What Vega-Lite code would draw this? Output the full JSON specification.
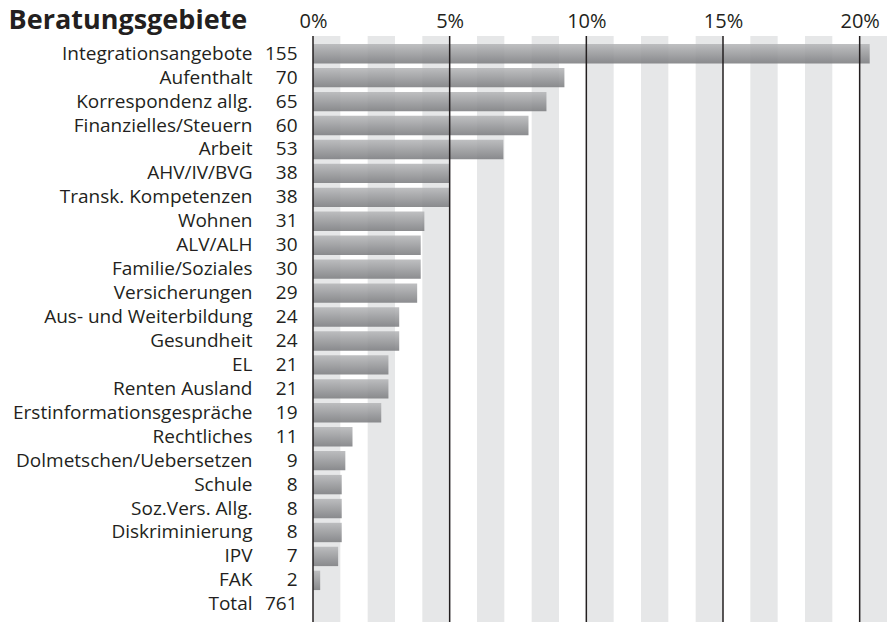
{
  "$schema": "https://vega.github.io/schema/vega-lite/v6.json",
  "width": 574,
  "height": 586,
  "autosize": "none",
  "padding": {"left": 313, "top": 36, "right": 0, "bottom": 0},
  "background": "white",
  "title": {
    "text": "Beratungsgebiete",
    "anchor": "start",
    "frame": "bounds",
    "orient": "top",
    "offset": -24,
    "dx": -4,
    "font": "Open Sans",
    "fontSize": 27,
    "fontWeight": "bold",
    "color": "#231f20"
  },
  "config": {
    "view": {"stroke": null},
    "font": "Open Sans"
  },
  "datasets": {
    "rows": [
      {"k": "Integrationsangebote|155", "name": "Integrationsangebote", "count": 155, "pct": 0.20368},
      {"k": "Aufenthalt|70", "name": "Aufenthalt", "count": 70, "pct": 0.09198},
      {"k": "Korrespondenz allg.|65", "name": "Korrespondenz allg.", "count": 65, "pct": 0.08541},
      {"k": "Finanzielles/Steuern|60", "name": "Finanzielles/Steuern", "count": 60, "pct": 0.07884},
      {"k": "Arbeit|53", "name": "Arbeit", "count": 53, "pct": 0.06965},
      {"k": "AHV/IV/BVG|38", "name": "AHV/IV/BVG", "count": 38, "pct": 0.04993},
      {"k": "Transk. Kompetenzen|38", "name": "Transk. Kompetenzen", "count": 38, "pct": 0.04993},
      {"k": "Wohnen|31", "name": "Wohnen", "count": 31, "pct": 0.04074},
      {"k": "ALV/ALH|30", "name": "ALV/ALH", "count": 30, "pct": 0.03942},
      {"k": "Familie/Soziales|30", "name": "Familie/Soziales", "count": 30, "pct": 0.03942},
      {"k": "Versicherungen|29", "name": "Versicherungen", "count": 29, "pct": 0.03811},
      {"k": "Aus- und Weiterbildung|24", "name": "Aus- und Weiterbildung", "count": 24, "pct": 0.03154},
      {"k": "Gesundheit|24", "name": "Gesundheit", "count": 24, "pct": 0.03154},
      {"k": "EL|21", "name": "EL", "count": 21, "pct": 0.02760},
      {"k": "Renten Ausland|21", "name": "Renten Ausland", "count": 21, "pct": 0.02760},
      {"k": "Erstinformationsgespräche|19", "name": "Erstinformationsgespräche", "count": 19, "pct": 0.02497},
      {"k": "Rechtliches|11", "name": "Rechtliches", "count": 11, "pct": 0.01445},
      {"k": "Dolmetschen/Uebersetzen|9", "name": "Dolmetschen/Uebersetzen", "count": 9, "pct": 0.01183},
      {"k": "Schule|8", "name": "Schule", "count": 8, "pct": 0.01051},
      {"k": "Soz.Vers. Allg.|8", "name": "Soz.Vers. Allg.", "count": 8, "pct": 0.01051},
      {"k": "Diskriminierung|8", "name": "Diskriminierung", "count": 8, "pct": 0.01051},
      {"k": "IPV|7", "name": "IPV", "count": 7, "pct": 0.00920},
      {"k": "FAK|2", "name": "FAK", "count": 2, "pct": 0.00263},
      {"k": "Total|761", "name": "Total", "count": 761, "pct": null}
    ],
    "stripes": [
      {"s": 0.00, "e": 0.01}, {"s": 0.02, "e": 0.03}, {"s": 0.04, "e": 0.05},
      {"s": 0.06, "e": 0.07}, {"s": 0.08, "e": 0.09}, {"s": 0.10, "e": 0.11},
      {"s": 0.12, "e": 0.13}, {"s": 0.14, "e": 0.15}, {"s": 0.16, "e": 0.17},
      {"s": 0.18, "e": 0.19}, {"s": 0.20, "e": 0.21}
    ],
    "lines": [{"v": 0}, {"v": 0.05}, {"v": 0.10}, {"v": 0.15}, {"v": 0.20}]
  },
  "layer": [
    {
      "data": {"name": "stripes"},
      "mark": {"type": "rect", "color": "#e6e7e8"},
      "encoding": {
        "x": {
          "field": "s",
          "type": "quantitative",
          "scale": {"domain": [0, 0.21], "nice": false, "zero": true},
          "axis": {
            "orient": "top",
            "values": [0, 0.05, 0.1, 0.15, 0.2],
            "format": ".0%",
            "title": null,
            "domain": false,
            "ticks": false,
            "grid": false,
            "labelFont": "Open Sans",
            "labelFontSize": 20,
            "labelColor": "#231f20",
            "labelPadding": 5,
            "labelFlush": false
          }
        },
        "x2": {"field": "e"}
      }
    },
    {
      "data": {"name": "rows"},
      "mark": {
        "type": "bar",
        "fillOpacity": 0.88,
        "color": {
          "gradient": "linear",
          "x1": 0, "y1": 0, "x2": 0, "y2": 1,
          "stops": [
            {"offset": 0, "color": "#b6b7b9"},
            {"offset": 1, "color": "#7c7d80"}
          ]
        }
      },
      "encoding": {
        "y": {
          "field": "k",
          "type": "nominal",
          "scale": {
            "domain": ["Integrationsangebote|155", "Aufenthalt|70", "Korrespondenz allg.|65", "Finanzielles/Steuern|60", "Arbeit|53", "AHV/IV/BVG|38", "Transk. Kompetenzen|38", "Wohnen|31", "ALV/ALH|30", "Familie/Soziales|30", "Versicherungen|29", "Aus- und Weiterbildung|24", "Gesundheit|24", "EL|21", "Renten Ausland|21", "Erstinformationsgespräche|19", "Rechtliches|11", "Dolmetschen/Uebersetzen|9", "Schule|8", "Soz.Vers. Allg.|8", "Diskriminierung|8", "IPV|7", "FAK|2", "Total|761"],
            "paddingInner": 0.19,
            "paddingOuter": 0.334
          },
          "axis": {
            "orient": "left",
            "title": null,
            "domain": false,
            "ticks": false,
            "labelExpr": "split(datum.value, '|')[0]",
            "labelFont": "Open Sans",
            "labelFontSize": 19,
            "labelColor": "#231f20",
            "labelPadding": 61,
            "labelLimit": 400
          }
        },
        "x": {"field": "pct", "type": "quantitative"}
      }
    },
    {
      "data": {"name": "rows"},
      "mark": {"type": "tick", "opacity": 0},
      "encoding": {
        "y": {
          "field": "k",
          "type": "nominal",
          "scale": {
            "domain": ["Integrationsangebote|155", "Aufenthalt|70", "Korrespondenz allg.|65", "Finanzielles/Steuern|60", "Arbeit|53", "AHV/IV/BVG|38", "Transk. Kompetenzen|38", "Wohnen|31", "ALV/ALH|30", "Familie/Soziales|30", "Versicherungen|29", "Aus- und Weiterbildung|24", "Gesundheit|24", "EL|21", "Renten Ausland|21", "Erstinformationsgespräche|19", "Rechtliches|11", "Dolmetschen/Uebersetzen|9", "Schule|8", "Soz.Vers. Allg.|8", "Diskriminierung|8", "IPV|7", "FAK|2", "Total|761"],
            "paddingInner": 0.19,
            "paddingOuter": 0.334
          },
          "axis": {
            "orient": "left",
            "title": null,
            "domain": false,
            "ticks": false,
            "labelExpr": "split(datum.value, '|')[1]",
            "labelFont": "Open Sans",
            "labelFontSize": 19,
            "labelColor": "#231f20",
            "labelPadding": 16,
            "labelLimit": 100
          }
        },
        "x": {"field": "pct", "type": "quantitative"}
      }
    },
    {
      "data": {"name": "lines"},
      "mark": {"type": "rule", "color": "#231f20", "strokeWidth": 1.5},
      "encoding": {
        "x": {"field": "v", "type": "quantitative"}
      }
    }
  ],
  "resolve": {"axis": {"y": "independent"}}
}
